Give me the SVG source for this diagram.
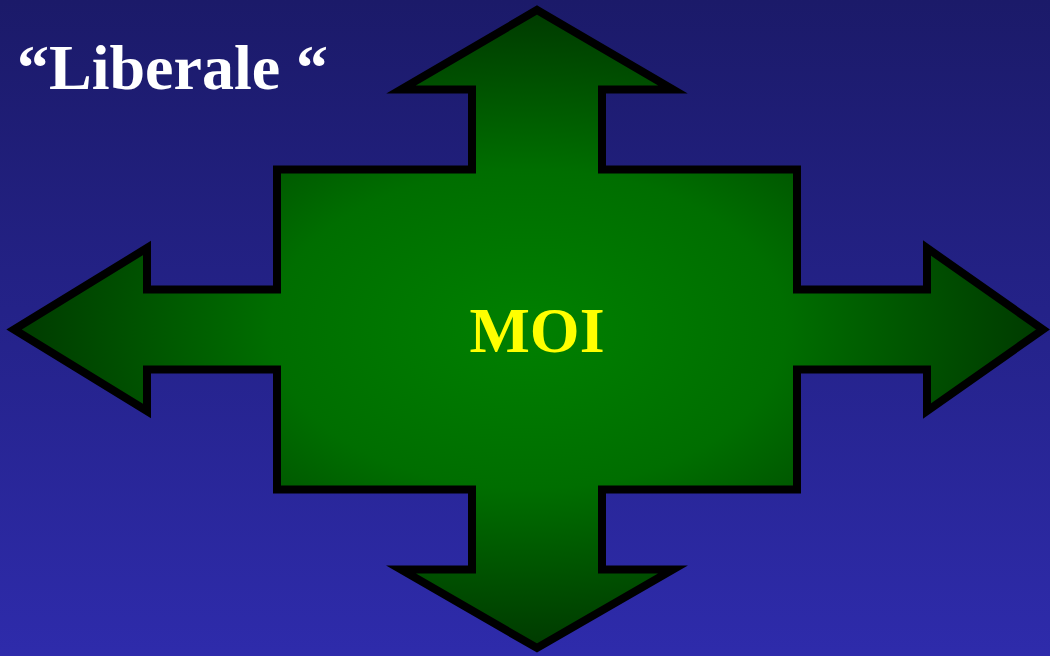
<svg xmlns="http://www.w3.org/2000/svg" width="1050" height="656" viewBox="0 0 1050 656">
  <defs>
    <linearGradient id="bg" x1="0" y1="0" x2="0" y2="1">
      <stop offset="0" stop-color="#1b1a69"/>
      <stop offset="1" stop-color="#2e2bab"/>
    </linearGradient>
    <radialGradient id="green" cx="0.5" cy="0.5" r="0.5" fx="0.5" fy="0.5">
      <stop offset="0" stop-color="#008000"/>
      <stop offset="0.5" stop-color="#006e00"/>
      <stop offset="1" stop-color="#003a00"/>
    </radialGradient>
    <style>
      .title { font-family: "Liberation Serif", "Times New Roman", serif; font-weight: bold; }
    </style>
  </defs>
  <rect x="0" y="0" width="1050" height="656" fill="url(#bg)"/>
  <g id="cross-arrow">
    <path d="M537,10 L673,89.5 L602,89.5 L602,169.5 L797,169.5 L797,289.5 L927,289.5 L927,248 L1043,329.5 L927,411 L927,369.5 L797,369.5 L797,489.5 L602,489.5 L602,569.5 L673,569.5 L537,648 L401,569.5 L472,569.5 L472,489.5 L277,489.5 L277,369.5 L147,369.5 L147,411 L14,329.5 L147,248 L147,289.5 L277,289.5 L277,169.5 L472,169.5 L472,89.5 L401,89.5 Z" fill="url(#green)" stroke="#000" stroke-width="8" stroke-linejoin="miter" stroke-miterlimit="10"/>
    <text class="title" x="537" y="352" font-size="64" fill="#ffff00" text-anchor="middle">MOI</text>
  </g>
  <g id="title">
    <text class="title" x="17" y="89" font-size="64" fill="#ffffff">“Liberale “</text>
  </g>
</svg>
